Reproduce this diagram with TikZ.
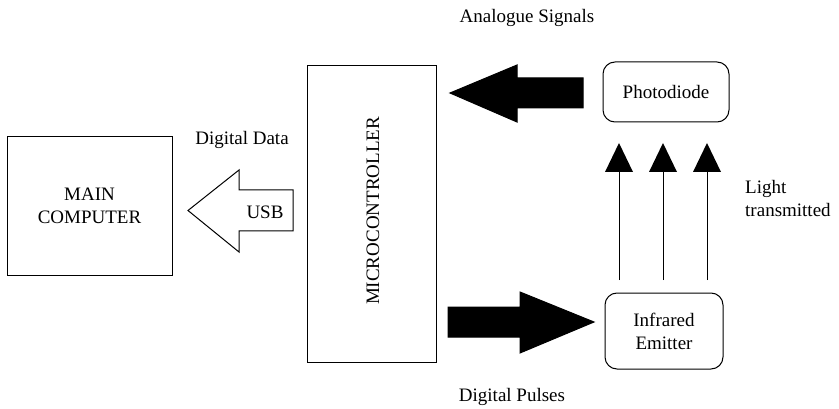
\documentclass[tikz,border=0pt]{standalone}
\usepackage{fontspec}
\setmainfont{Liberation Serif}
\begin{document}
\begin{tikzpicture}[x=1pt,y=-1pt,
  every node/.style={font=\fontsize{19}{23}\selectfont, inner sep=0pt},
  box/.style={draw, line width=1pt},
  rbox/.style={draw, line width=1pt, rounded corners=12pt},
  blk/.style={fill=black, draw=black, line width=1pt},
  hollow/.style={fill=white, draw=black, line width=1pt},
  lab/.style={align=left}]
\useasboundingbox (0,0) rectangle (839,409);
% boxes
\node[box, minimum width=165pt, minimum height=138pt, align=center] (mc) at (89.5,206) {MAIN\\COMPUTER};
\node[box, minimum width=129pt, minimum height=296pt] (uc) at (371.5,214) {};
\node[rotate=90] (uclab) at (373,211) {MICROCONTROLLER};
\node[rbox, minimum width=126pt, minimum height=60pt] (pd) at (666,92) {Photodiode};
\node[rbox, minimum width=118pt, minimum height=76pt, align=center] (ir) at (664,331) {Infrared\\Emitter};
% USB hollow arrow
\draw[hollow] (293,190) -- (239,190) -- (239,170) -- (188,210.5) -- (239,252) -- (239,231) -- (293,231) -- cycle;
\node (usb) at (265,212) {USB};
% analogue signals arrow
\draw[blk] (583,78) -- (517,78) -- (517,65) -- (450,93) -- (517,122) -- (517,108) -- (583,108) -- cycle;
% digital pulses arrow
\draw[blk] (448,307) -- (520,307) -- (520,292) -- (594,322) -- (520,353) -- (520,337) -- (448,337) -- cycle;
% light arrows
\foreach \x/\n in {619/a,663/b,707/c}{
  \coordinate (s\n) at (\x,280);
  \coordinate (t\n) at (\x,143);
  \draw[line width=1pt] (s\n) -- (\x,172);
  \fill (\x-14,172) -- (t\n) -- (\x+14,172) -- cycle;
}
% labels
\node (dd) at (242,140) {Digital Data};
\node (as) at (527,18) {Analogue Signals};
\node (dp) at (512,397) {Digital Pulses};
\node[lab, anchor=west] (lt) at (745,199) {Light\\transmitted};
\end{tikzpicture}
\end{document}
